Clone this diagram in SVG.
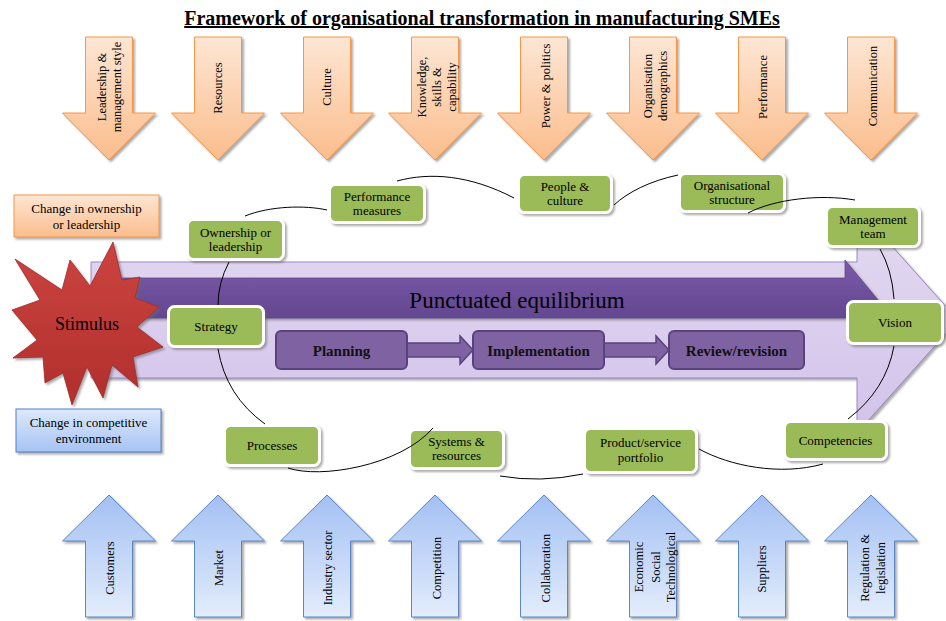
<svg xmlns="http://www.w3.org/2000/svg" xmlns:xlink="http://www.w3.org/1999/xlink" width="946" height="621" viewBox="0 0 946 621">
  <defs>
    <linearGradient id="gOrange" x1="0" y1="0" x2="0" y2="1">
      <stop offset="0" stop-color="#fde6d4"/>
      <stop offset="1" stop-color="#fbbd8c"/>
    </linearGradient>
    <linearGradient id="gBlue" x1="0" y1="0" x2="0" y2="1">
      <stop offset="0" stop-color="#a3c0f3"/>
      <stop offset="1" stop-color="#e3edfc"/>
    </linearGradient>
    <linearGradient id="gBlueBox" x1="0" y1="0" x2="0" y2="1">
      <stop offset="0" stop-color="#dde9fc"/>
      <stop offset="1" stop-color="#a6c3f4"/>
    </linearGradient>
    <linearGradient id="gLavender" x1="0" y1="0" x2="0" y2="1">
      <stop offset="0" stop-color="#e4dbf1"/>
      <stop offset="1" stop-color="#d2c2ea"/>
    </linearGradient>
    <linearGradient id="gDark" x1="0" y1="0" x2="0" y2="1">
      <stop offset="0" stop-color="#7b5aa9"/>
      <stop offset="1" stop-color="#634790"/>
    </linearGradient>
    <linearGradient id="gRed" x1="0" y1="0" x2="0" y2="1">
      <stop offset="0" stop-color="#cc4441"/>
      <stop offset="1" stop-color="#b02f2c"/>
    </linearGradient>
    <filter id="shadow" x="-10%" y="-10%" width="125%" height="130%">
      <feDropShadow dx="2" dy="2" stdDeviation="1.2" flood-color="#666" flood-opacity="0.55"/>
    </filter>
    <path id="downArrow" d="M-23.5,37 H23.5 V113 H46.5 L0,160 L-46.5,113 H-23.5 Z"/>
    <path id="upArrow" d="M0,495 L46.5,541 H23.5 V617 H-23.5 V541 H-46.5 Z"/>
  </defs>
  <style>
    text { font-family: "Liberation Serif", "Times New Roman", serif; fill: #000; }
    .factor { fill: url(#gOrange); stroke: #f79646; stroke-width: 1; filter: url(#shadow); }
    .env { fill: url(#gBlue); stroke: #5b86c5; stroke-width: 1; filter: url(#shadow); }
    .lbl { font-size: 12.5px; text-anchor: middle; }
    .node rect { fill: #9bbb59; stroke: #fff; stroke-width: 3; filter: url(#shadow); }
    .node text { font-size: 13px; text-anchor: middle; }
    .phase rect { fill: #7e62a2; stroke: #5a437d; stroke-width: 2; }
    .phase text { font-size: 15px; font-weight: bold; text-anchor: middle; fill: #111; }
    .step { fill: #7e62a2; stroke: #5a437d; stroke-width: 1.5; }
    #connectors path { fill: none; stroke: #000; stroke-width: 1; }
  </style>

  <!-- title -->
  <text x="482" y="25" font-size="20" font-weight="bold" text-anchor="middle" text-decoration="underline">Framework of organisational transformation in manufacturing SMEs</text>

  <!-- internal factors: down arrows -->
  <g id="f-leadership" transform="translate(109,0)">
    <use xlink:href="#downArrow" class="factor"/>
    <g transform="translate(0,87) rotate(-90)">
      <text class="lbl" x="0" y="-3">Leadership &amp;</text>
      <text class="lbl" x="0" y="12">management style</text>
    </g>
  </g>
  <g id="f-resources" transform="translate(218,0)">
    <use xlink:href="#downArrow" class="factor"/>
    <text class="lbl" transform="translate(0,88) rotate(-90)" x="0" y="4">Resources</text>
  </g>
  <g id="f-culture" transform="translate(327,0)">
    <use xlink:href="#downArrow" class="factor"/>
    <text class="lbl" transform="translate(0,87) rotate(-90)" x="0" y="4">Culture</text>
  </g>
  <g id="f-knowledge" transform="translate(435,0)">
    <use xlink:href="#downArrow" class="factor"/>
    <g transform="translate(0,87) rotate(-90)">
      <text class="lbl" x="0" y="-9">Knowledge,</text>
      <text class="lbl" x="0" y="6">skills &amp;</text>
      <text class="lbl" x="0" y="21">capability</text>
    </g>
  </g>
  <g id="f-power" transform="translate(544,0)">
    <use xlink:href="#downArrow" class="factor"/>
    <text class="lbl" transform="translate(0,86) rotate(-90)" x="0" y="6">Power &amp; politics</text>
  </g>
  <g id="f-demographics" transform="translate(653,0)">
    <use xlink:href="#downArrow" class="factor"/>
    <g transform="translate(0,86) rotate(-90)">
      <text class="lbl" x="0" y="-1">Organisation</text>
      <text class="lbl" x="0" y="14">demographics</text>
    </g>
  </g>
  <g id="f-performance" transform="translate(762,0)">
    <use xlink:href="#downArrow" class="factor"/>
    <text class="lbl" transform="translate(0,87) rotate(-90)" x="0" y="5">Performance</text>
  </g>
  <g id="f-communication" transform="translate(871,0)">
    <use xlink:href="#downArrow" class="factor"/>
    <text class="lbl" transform="translate(0,86) rotate(-90)" x="0" y="6">Communication</text>
  </g>

  <!-- punctuated equilibrium arrow -->
  <g id="equilibrium">
    <path d="M91,262 H857 V207 L958,320 L857,433 V378 H91 Z" fill="url(#gLavender)" stroke="#9c88c4" stroke-width="1" filter="url(#shadow)"/>
    <path d="M110,278 H845 V260 L893,318 H110 Z" fill="url(#gDark)" stroke="#62478d" stroke-width="0.8" filter="url(#shadow)"/>
    <text x="517" y="308" font-size="23" text-anchor="middle">Punctuated equilibrium</text>
  </g>

  <!-- change process -->
  <g id="p-steps">
    <path class="step" d="M407,343 H460 V336 L473,350 L460,364 V357 H407 Z"/>
    <path class="step" d="M604,343 H656 V336 L669,350 L656,364 V357 H604 Z"/>
  </g>
  <g id="p-planning" class="phase">
    <rect x="276" y="331" width="131" height="38" rx="5"/>
    <text x="341.5" y="356">Planning</text>
  </g>
  <g id="p-implementation" class="phase">
    <rect x="473" y="331" width="131" height="38" rx="5"/>
    <text x="538.5" y="356">Implementation</text>
  </g>
  <g id="p-review" class="phase">
    <rect x="669" y="331" width="135" height="38" rx="5"/>
    <text x="736.5" y="356">Review/revision</text>
  </g>

  <!-- stimulus -->
  <g id="stimulus">
    <polygon points="113,242 122,280 140,277 135,298 159,307 137,327 163,347 133,357 138,387 112,365 103,398 87,367 72,405 63,373 45,383 43,357 13,358 37,340 12,310 40,300 15,259 62,290 70,260 90,286" fill="url(#gRed)" stroke="#a02a28" stroke-width="0.8" filter="url(#shadow)"/>
    <text x="87" y="330" font-size="18" text-anchor="middle">Stimulus</text>
  </g>
  <g id="s-ownership">
    <rect x="14" y="195" width="145" height="42" fill="url(#gOrange)" stroke="#f79646" stroke-width="1" filter="url(#shadow)"/>
    <text x="86.5" y="213" font-size="13" text-anchor="middle">Change in ownership</text>
    <text x="86.5" y="229" font-size="13" text-anchor="middle">or leadership</text>
  </g>
  <g id="s-competitive">
    <rect x="16" y="409" width="145" height="43" fill="url(#gBlueBox)" stroke="#4f81bd" stroke-width="1" filter="url(#shadow)"/>
    <text x="88.5" y="427" font-size="13" text-anchor="middle">Change in competitive</text>
    <text x="88.5" y="443" font-size="13" text-anchor="middle">environment</text>
  </g>

  <!-- cycle nodes -->
  <g id="n-ownership" class="node">
    <rect x="187.5" y="219.5" width="96" height="40" rx="6"/>
    <text x="235.5" y="237">Ownership or</text>
    <text x="235.5" y="251">leadership</text>
  </g>
  <g id="n-performance" class="node">
    <rect x="329.5" y="184.5" width="95" height="38" rx="6"/>
    <text x="377" y="201">Performance</text>
    <text x="377" y="215">measures</text>
  </g>
  <g id="n-people" class="node">
    <rect x="518.5" y="174.5" width="93" height="38" rx="6"/>
    <text x="565" y="191">People &amp;</text>
    <text x="565" y="205">culture</text>
  </g>
  <g id="n-structure" class="node">
    <rect x="679.5" y="173.5" width="105" height="38" rx="6"/>
    <text x="732" y="190">Organisational</text>
    <text x="732" y="204">structure</text>
  </g>
  <g id="n-management" class="node">
    <rect x="826.5" y="206.5" width="93" height="40" rx="6"/>
    <text x="873" y="224">Management</text>
    <text x="873" y="238">team</text>
  </g>
  <g id="n-strategy" class="node">
    <rect x="168.5" y="306.5" width="95" height="40" rx="6"/>
    <text x="216" y="331">Strategy</text>
  </g>
  <g id="n-vision" class="node">
    <rect x="847.5" y="301.5" width="95" height="42" rx="6"/>
    <text x="895" y="327">Vision</text>
  </g>
  <g id="n-processes" class="node">
    <rect x="224.5" y="425.5" width="95" height="40" rx="6"/>
    <text x="272" y="450">Processes</text>
  </g>
  <g id="n-systems" class="node">
    <rect x="409.5" y="429.5" width="94" height="39" rx="6"/>
    <text x="456.5" y="446">Systems &amp;</text>
    <text x="456.5" y="460">resources</text>
  </g>
  <g id="n-portfolio" class="node">
    <rect x="584.5" y="428.5" width="112" height="44" rx="6"/>
    <text x="640.5" y="447">Product/service</text>
    <text x="640.5" y="462">portfolio</text>
  </g>
  <g id="n-competencies" class="node">
    <rect x="784.5" y="421.5" width="102" height="38" rx="6"/>
    <text x="835.5" y="445">Competencies</text>
  </g>

  <!-- cycle connectors -->
  <g id="connectors">
    <path d="M327,210 C305,205 270,206 245,216"/>
    <path d="M229,262 Q218,283 218,305"/>
    <path d="M218,349 Q226,396 265,424"/>
    <path d="M288,468 C320,479 400,466 433,428"/>
    <path d="M500,476 Q540,483 583,474"/>
    <path d="M699,449 C730,466 780,476 823,464"/>
    <path d="M848,419 Q886,390 894,346"/>
    <path d="M894,299 Q892,270 880,249"/>
    <path d="M855,200 C820,194 775,199 748,213"/>
    <path d="M678,175 C650,181 628,192 614,205"/>
    <path d="M397,181 C430,172 470,175 514,198"/>
  </g>

  <!-- external factors: up arrows -->
  <g id="e-customers" transform="translate(109,0)">
    <use xlink:href="#upArrow" class="env"/>
    <text class="lbl" transform="translate(0,568) rotate(-90)" x="0" y="5">Customers</text>
  </g>
  <g id="e-market" transform="translate(218,0)">
    <use xlink:href="#upArrow" class="env"/>
    <text class="lbl" transform="translate(0,568) rotate(-90)" x="0" y="5">Market</text>
  </g>
  <g id="e-industry" transform="translate(327,0)">
    <use xlink:href="#upArrow" class="env"/>
    <text class="lbl" transform="translate(0,568) rotate(-90)" x="0" y="5">Industry sector</text>
  </g>
  <g id="e-competition" transform="translate(435,0)">
    <use xlink:href="#upArrow" class="env"/>
    <text class="lbl" transform="translate(0,568) rotate(-90)" x="0" y="6">Competition</text>
  </g>
  <g id="e-collaboration" transform="translate(544,0)">
    <use xlink:href="#upArrow" class="env"/>
    <text class="lbl" transform="translate(0,568) rotate(-90)" x="0" y="6">Collaboration</text>
  </g>
  <g id="e-est" transform="translate(653,0)">
    <use xlink:href="#upArrow" class="env"/>
    <g transform="translate(0,567) rotate(-90)">
      <text class="lbl" x="0" y="-10">Economic</text>
      <text class="lbl" x="0" y="7">Social</text>
      <text class="lbl" x="0" y="22">Technological</text>
    </g>
  </g>
  <g id="e-suppliers" transform="translate(762,0)">
    <use xlink:href="#upArrow" class="env"/>
    <text class="lbl" transform="translate(0,569) rotate(-90)" x="0" y="4">Suppliers</text>
  </g>
  <g id="e-regulation" transform="translate(871,0)">
    <use xlink:href="#upArrow" class="env"/>
    <g transform="translate(0,568) rotate(-90)">
      <text class="lbl" x="0" y="-2">Regulation &amp;</text>
      <text class="lbl" x="0" y="14">legislation</text>
    </g>
  </g>
</svg>
